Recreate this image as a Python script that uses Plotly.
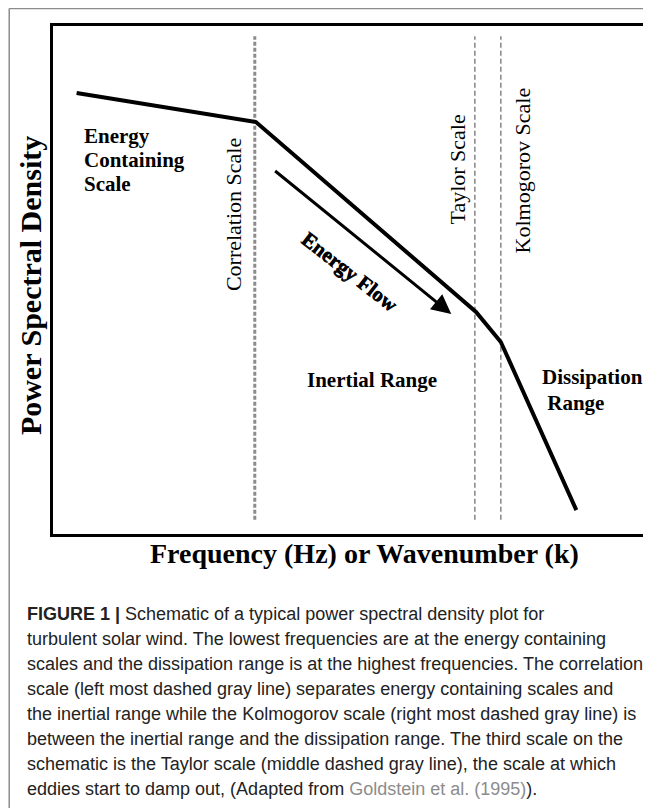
import plotly.graph_objects as go

# schematic spectrum, arbitrary units (0-100 on both axes)
freq = [4.0, 34.4, 71.7, 75.9, 88.7]
psd = [86.8, 81.1, 43.7, 37.8, 4.7]

scale_names = ["Correlation Scale", "Taylor Scale", "Kolmogorov Scale"]
scale_freq = [34.2, 71.5, 75.9]
scale_width = [3, 1.6, 1.6]
scale_label_x = [30.7, 68.6, 79.6]
scale_label_y = [62.8, 71.7, 71.5]
dash_bottom, dash_top = 2.8, 98.0

flow_from = (37.4, 71.7)
flow_to = (67.5, 43.3)

region_lines = [
    ("Energy", 4.9, 78.3),
    ("Containing", 4.9, 73.6),
    ("Scale", 4.9, 68.9),
    ("Dissipation", 82.6, 30.9),
    (" Range", 82.6, 25.8),
]

caption_lines = [
    "<b>FIGURE 1 |</b> Schematic of a typical power spectral density plot for",
    "turbulent solar wind. The lowest frequencies are at the energy containing",
    "scales and the dissipation range is at the highest frequencies. The correlation",
    "scale (left most dashed gray line) separates energy containing scales and",
    "the inertial range while the Kolmogorov scale (right most dashed gray line) is",
    "between the inertial range and the dissipation range. The third scale on the",
    "schematic is the Taylor scale (middle dashed gray line), the scale at which",
    "eddies start to damp out, (Adapted from "
    "<span style='color:#8c8c8c'>Goldstein et al. (1995)</span>).",
]

# the page body has an 8px margin, so the figure is laid out 8px in
OFF = 8
W, H = 651 - OFF, 808 - OFF
L, R, T, B = 53 - OFF, 5, 26 - OFF, 274
plot_w = W - L - R
plot_h = H - T - B


def px_to_paper(px, py):
    # px, py are window pixels
    return (px - OFF - L) / plot_w, (H - B - (py - OFF)) / plot_h


SERIF = "Liberation Serif, Times New Roman, serif"
SANS = "Liberation Sans, Arial, sans-serif"

fig = go.Figure()

for name, x, w in zip(scale_names, scale_freq, scale_width):
    fig.add_trace(go.Scatter(
        x=[x, x], y=[dash_bottom, dash_top], mode="lines",
        line=dict(color="#8c8c8c", width=w, dash="4px,2px" if w > 2 else "5px,3px"),
        name=name, showlegend=False, hoverinfo="skip",
    ))

fig.add_trace(go.Scatter(
    x=freq, y=psd, mode="lines",
    line=dict(color="black", width=4),
    showlegend=False, name="PSD",
))

ann = []

for name, lx, ly in zip(scale_names, scale_label_x, scale_label_y):
    ann.append(dict(x=lx, y=ly, text=name, textangle=-90, showarrow=False,
                    font=dict(family=SERIF, size=22, color="black")))

for text, lx, ly in region_lines:
    ann.append(dict(x=lx, y=ly, text="<b>%s</b>" % text, xanchor="left",
                    showarrow=False,
                    font=dict(family=SERIF, size=21, color="black")))

ann.append(dict(x=54.1, y=30.3, text="<b>Inertial Range</b>", showarrow=False,
                font=dict(family=SERIF, size=21, color="black")))

# energy flow arrow
ann.append(dict(x=flow_to[0], y=flow_to[1], ax=flow_from[0], ay=flow_from[1],
                xref="x", yref="y", axref="x", ayref="y", text="",
                showarrow=True, arrowhead=2, arrowsize=1.3, arrowwidth=3,
                arrowcolor="black"))
ann.append(dict(x=50.4, y=51.6, text="<b>Energy Flow</b>", textangle=38,
                showarrow=False,
                font=dict(family=SERIF, size=21, color="black",
                          shadow="0.6px 0.6px 0 black")))

# axis titles
xt, yt = px_to_paper(366, 553)
ann.append(dict(x=xt, y=yt, xref="paper", yref="paper", xanchor="center",
                yanchor="middle", text="<b>Frequency (Hz) or Wavenumber (k)</b>",
                showarrow=False, font=dict(family=SERIF, size=28, color="black")))
xt, yt = px_to_paper(30, 286)
ann.append(dict(x=xt, y=yt, xref="paper", yref="paper", xanchor="center",
                yanchor="middle", textangle=-90,
                text="<b>Power Spectral Density</b>", showarrow=False,
                font=dict(family=SERIF, size=30, color="black")))

# caption
for i, line in enumerate(caption_lines):
    cx, cy = px_to_paper(25, 614 + i * 25)
    ann.append(dict(x=cx, y=cy, xref="paper", yref="paper", text=line,
                    xanchor="left", yanchor="middle", align="left",
                    showarrow=False,
                    font=dict(family=SANS, size=18, color="#222222")))

# panel frame (top and left rules)
fx0, fy0 = px_to_paper(9, 8.5)
fx1, fy1 = px_to_paper(651, 808)
shapes = [
    dict(type="line", xref="paper", yref="paper", x0=fx0, y0=fy0, x1=fx1, y1=fy0,
         line=dict(color="#8c8c8c", width=1.5)),
    dict(type="line", xref="paper", yref="paper", x0=fx0, y0=fy0, x1=fx0, y1=fy1,
         line=dict(color="#8c8c8c", width=1.5)),
]

axis_style = dict(range=[0, 100], showgrid=False, zeroline=False,
                  showticklabels=False, ticks="", showline=True,
                  linecolor="black", linewidth=3, mirror=True, fixedrange=True)

fig.update_layout(
    width=W, height=H,
    margin=dict(l=L, r=R, t=T, b=B),
    paper_bgcolor="white", plot_bgcolor="white",
    xaxis=axis_style, yaxis=axis_style,
    annotations=ann, shapes=shapes,
    showlegend=False,
)

fig.write_html("out.html", config={"displayModeBar": False})
